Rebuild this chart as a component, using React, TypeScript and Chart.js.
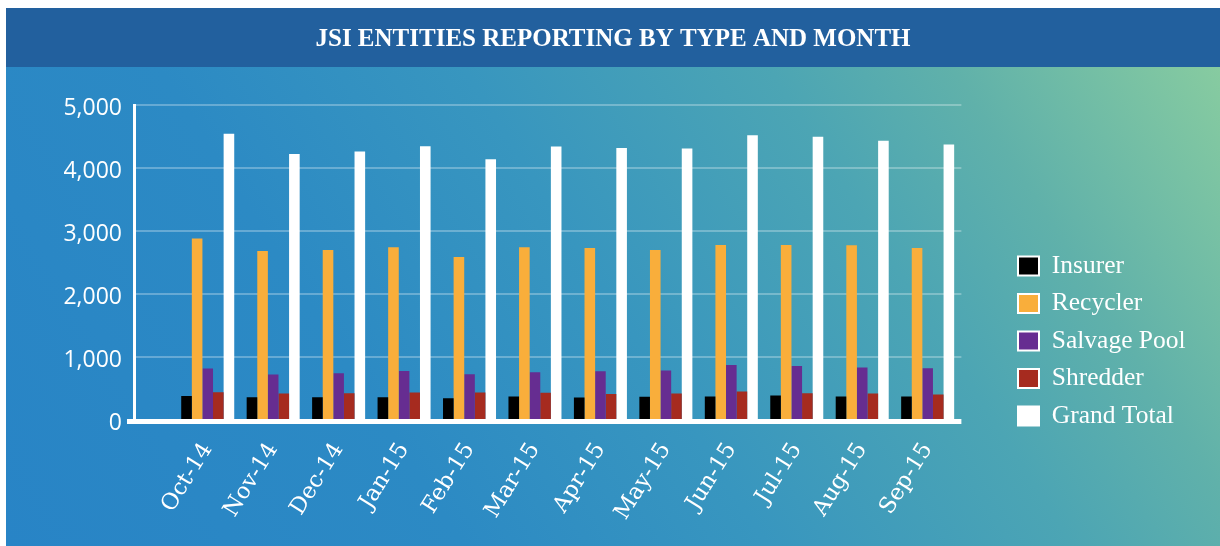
import React, { useEffect, useRef } from 'react';
import { Chart, registerables } from 'chart.js';

Chart.register(...registerables);

const titleText = 'JSI ENTITIES REPORTING BY TYPE AND MONTH';
const categories = ['Oct-14', 'Nov-14', 'Dec-14', 'Jan-15', 'Feb-15', 'Mar-15', 'Apr-15', 'May-15', 'Jun-15', 'Jul-15', 'Aug-15', 'Sep-15'];
const insurer = [379, 363, 363, 363, 347, 374, 358, 368, 374, 389, 374, 374];
const recycler = [2879, 2684, 2700, 2742, 2589, 2742, 2732, 2700, 2779, 2779, 2774, 2732];
const salvagePool = [816, 721, 742, 779, 726, 758, 774, 784, 874, 858, 832, 821];
const shredder = [442, 421, 426, 437, 437, 432, 411, 421, 453, 426, 421, 405];
const grandTotal = [4542, 4221, 4263, 4347, 4137, 4342, 4316, 4311, 4521, 4495, 4432, 4374];
const yTicks = [0, 1000, 2000, 3000, 4000, 5000];

const W = 1214;
const H = 538;
const HEADER_H = 59;
const AXIS_X = 128.5;
const LEGEND_LEFT = 1000;
const LEGEND_DY = 64;

export default function App() {
  const ref = useRef<HTMLCanvasElement>(null);

  useEffect(() => {
    if (!ref.current) return;

    const bgPlugin = {
      id: 'bgPlugin',
      beforeDraw(chart: any) {
        const { ctx, width, height } = chart;
        ctx.save();
        const g = ctx.createLinearGradient(0, height, 1085, height - 691);
        g.addColorStop(0, '#2884c6');
        g.addColorStop(0.3, '#2c8ac4');
        g.addColorStop(0.5, '#3896bf');
        g.addColorStop(0.7, '#4ca5b4');
        g.addColorStop(0.82, '#60b1aa');
        g.addColorStop(1, '#88cca0');
        ctx.fillStyle = g;
        ctx.fillRect(0, 0, width, height);
        ctx.fillStyle = '#22609e';
        ctx.fillRect(0, 0, width, HEADER_H);
        ctx.restore();
      },
    };

    const layoutPlugin = {
      id: 'layoutPlugin',
      afterLayout(chart: any) {
        const lg = chart.legend;
        if (lg) {
          const w = lg.width;
          lg.left = LEGEND_LEFT;
          lg.right = LEGEND_LEFT + w;
          lg.top += LEGEND_DY;
          lg.bottom += LEGEND_DY;
        }
        const tb = chart.titleBlock;
        if (tb) {
          tb.left = 0;
          tb.right = chart.width;
          tb.width = chart.width;
        }
      },
    };

    const axesPlugin = {
      id: 'axesPlugin',
      beforeDatasetsDraw(chart: any) {
        const { ctx, chartArea } = chart;
        const y = chart.scales.y;
        ctx.save();
        ctx.strokeStyle = 'rgba(255,255,255,0.28)';
        ctx.lineWidth = 2;
        for (const v of yTicks) {
          if (v === 0) continue;
          const py = Math.round(y.getPixelForValue(v));
          ctx.beginPath();
          ctx.moveTo(AXIS_X, py);
          ctx.lineTo(chartArea.right + 1, py);
          ctx.stroke();
        }
        ctx.strokeStyle = '#ffffff';
        ctx.lineWidth = 3;
        ctx.beginPath();
        ctx.moveTo(AXIS_X, y.getPixelForValue(5000) - 1);
        ctx.lineTo(AXIS_X, y.getPixelForValue(0));
        ctx.stroke();
        ctx.restore();
      },
      afterDatasetsDraw(chart: any) {
        const { ctx, chartArea } = chart;
        const y = chart.scales.y;
        const y0 = y.getPixelForValue(0);
        ctx.save();
        ctx.fillStyle = '#ffffff';
        ctx.fillRect(AXIS_X - 7.5, y0 - 1, chartArea.right + 1 - (AXIS_X - 7.5), 5);
        ctx.restore();
      },
    };

    const chart = new Chart(ref.current, {
      type: 'bar',
      data: {
        labels: categories,
        datasets: [
          { label: 'Insurer', data: insurer, backgroundColor: '#000000' },
          { label: 'Recycler', data: recycler, backgroundColor: '#f9ae3b' },
          { label: 'Salvage Pool', data: salvagePool, backgroundColor: '#662d91' },
          { label: 'Shredder', data: shredder, backgroundColor: '#a62b1f' },
          { label: 'Grand Total', data: grandTotal, backgroundColor: '#ffffff' },
        ],
      },
      options: {
        animation: false,
        responsive: false,
        maintainAspectRatio: false,
        devicePixelRatio: 1,
        layout: { padding: { left: 0, right: 70, top: 0, bottom: 0 } },
        datasets: {
          bar: { barPercentage: 1, categoryPercentage: 0.81, borderWidth: 0 },
        },
        plugins: {
          title: {
            display: true,
            text: titleText,
            color: '#ffffff',
            font: { family: "'Liberation Serif', serif", size: 25, weight: 'bold' },
            padding: { top: 17, bottom: 50 },
          },
          legend: {
            display: true,
            position: 'right',
            align: 'center',
            labels: {
              color: '#ffffff',
              font: { family: "'Liberation Serif', serif", size: 25.5 },
              boxWidth: 21,
              boxHeight: 19,
              padding: 12,
              generateLabels(chart: any) {
                const items = Chart.defaults.plugins.legend.labels.generateLabels(chart);
                return items.map((it: any) => ({ ...it, strokeStyle: '#ffffff', lineWidth: 2 }));
              },
            },
          },
          tooltip: { enabled: false },
        },
        scales: {
          x: {
            grid: { display: false, drawTicks: false },
            border: { display: false },
            ticks: {
              color: '#ffffff',
              font: { family: "DejaVu Serif, serif", size: 22.5 },
              maxRotation: 58,
              minRotation: 58,
              autoSkip: false,
              padding: 18,
            },
            afterFit(s: any) {
              s.height = 126;
            },
          },
          y: {
            min: 0,
            max: 5000,
            grid: { display: false, drawTicks: false },
            border: { display: false },
            ticks: {
              stepSize: 1000,
              color: '#ffffff',
              font: { family: "'Open Sans', sans-serif", size: 23 },
              padding: 53,
              labelOffset: 3,
              callback: (v: any) => Number(v).toLocaleString('en-US'),
            },
            afterFit(s: any) {
              s.width = 169;
            },
          },
        },
      },
      plugins: [bgPlugin, layoutPlugin, axesPlugin],
    });

    return () => chart.destroy();
  }, []);

  return (
    <div style={{ position: 'fixed', left: 6, top: 8, width: W, height: H }}>
      <canvas ref={ref} width={W} height={H} style={{ width: W, height: H, display: 'block' }} />
    </div>
  );
}
